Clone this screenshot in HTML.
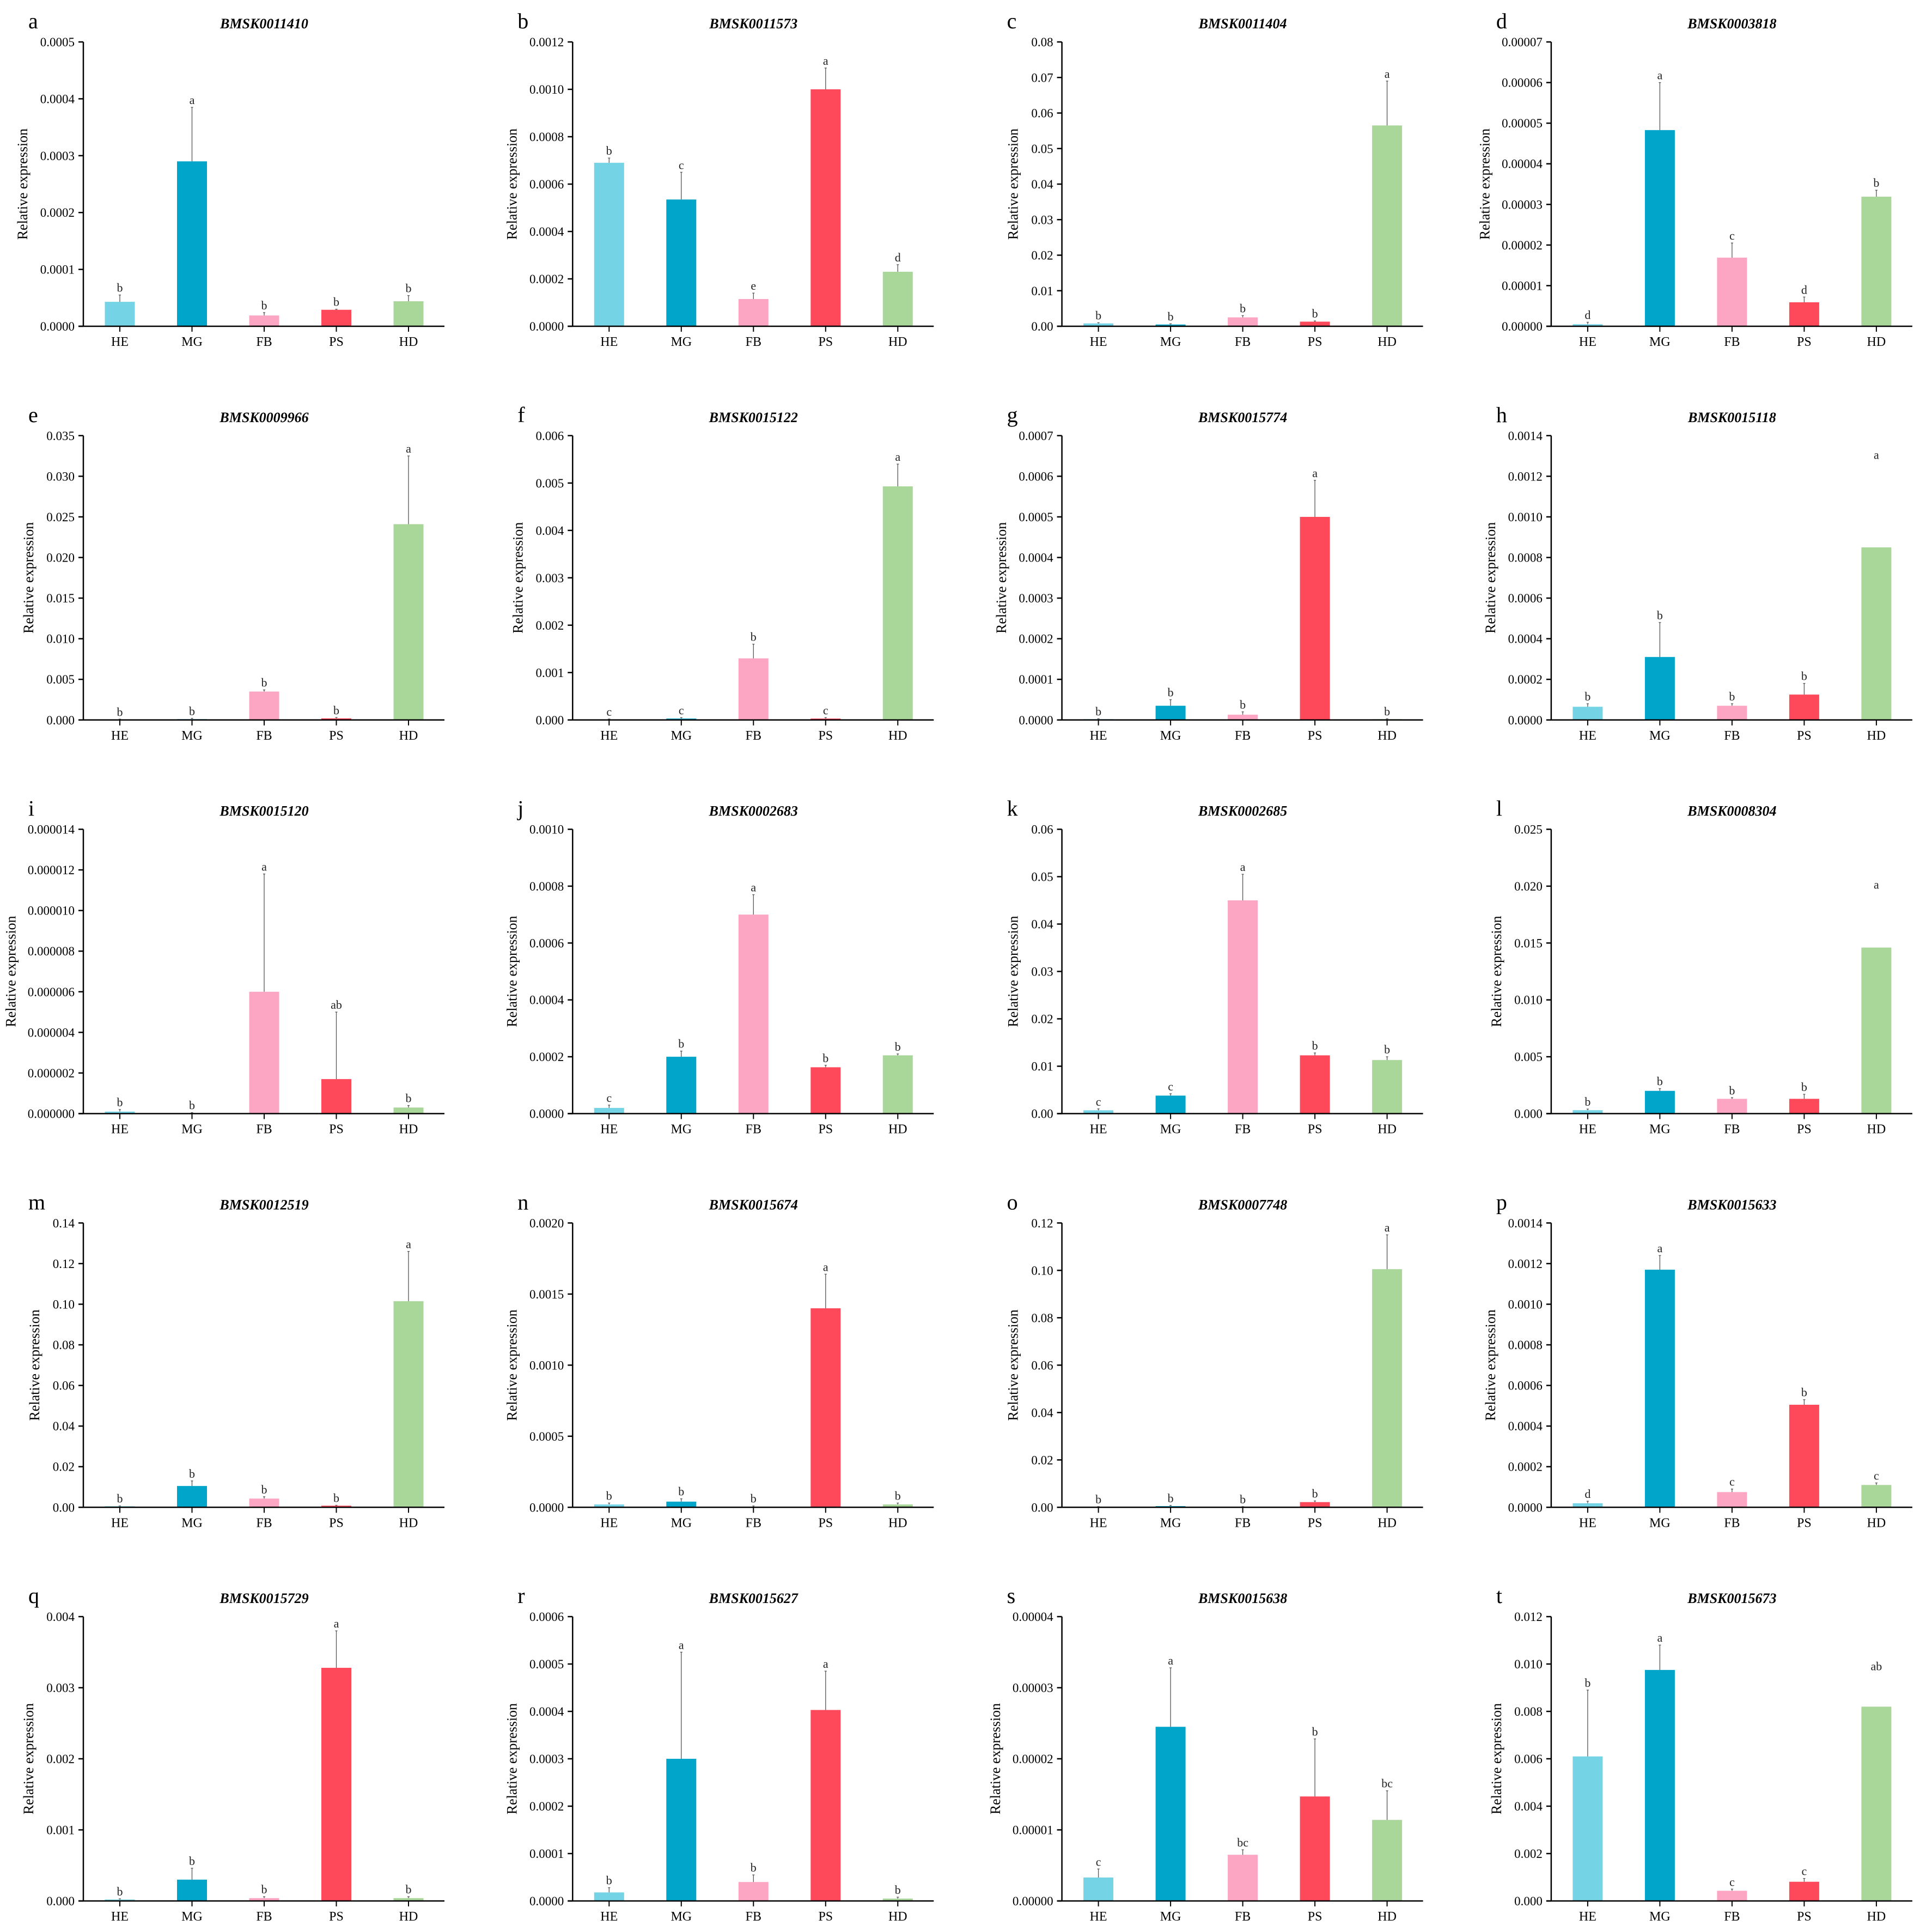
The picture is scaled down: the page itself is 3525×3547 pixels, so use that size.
<!DOCTYPE html>
<html><head><meta charset="utf-8">
<style>
html,body{margin:0;padding:0;background:#fff;}
svg{display:block;font-family:"Liberation Serif",serif;}
</style></head>
<body>
<svg id="fig" width="3525" height="3547" viewBox="0 0 3525 3547" xmlns="http://www.w3.org/2000/svg"></svg>
<script>
const categories = ["HE","MG","FB","PS","HD"];
const colors = ["#74d3e4","#00a5c9","#fca6c3","#fe495b","#a9d699"];
const panelLetters = ["a","b","c","d","e","f","g","h","i","j","k","l","m","n","o","p","q","r","s","t"];
const geneNames = ["BMSK0011410","BMSK0011573","BMSK0011404","BMSK0003818","BMSK0009966","BMSK0015122","BMSK0015774","BMSK0015118","BMSK0015120","BMSK0002683","BMSK0002685","BMSK0008304","BMSK0012519","BMSK0015674","BMSK0007748","BMSK0015633","BMSK0015729","BMSK0015627","BMSK0015638","BMSK0015673"];
const axisMax = [0.0005,0.0012,0.08,0.00007,0.035,0.006,0.0007,0.0014,0.000014,0.0010,0.06,0.025,0.14,0.0020,0.12,0.0014,0.004,0.0006,0.00004,0.012];
const tickStep = [0.0001,0.0002,0.01,0.00001,0.005,0.001,0.0001,0.0002,0.000002,0.0002,0.01,0.005,0.02,0.0005,0.02,0.0002,0.001,0.0001,0.00001,0.002];
const tickDecimals = [4,4,2,5,3,3,4,4,6,4,2,3,2,4,2,4,3,4,5,3];
const meanValues = [
 [0.000043,0.00029,0.000019,0.000029,0.000044],
 [0.00069,0.000535,0.000115,0.001,0.00023],
 [0.0008,0.0005,0.0025,0.0013,0.0565],
 [0.0000005,0.0000483,0.0000169,0.0000059,0.0000319],
 [0.00005,0.0001,0.0035,0.0002,0.0241],
 [0.00001,0.00003,0.0013,0.00003,0.00493],
 [0.000002,0.000035,0.000013,0.0005,0.000002],
 [0.000065,0.00031,0.00007,0.000125,0.00085],
 [0.0000001,0,0.000006,0.0000017,0.0000003],
 [0.00002,0.0002,0.0007,0.000163,0.000205],
 [0.0007,0.0038,0.045,0.0123,0.0113],
 [0.0003,0.002,0.0013,0.0013,0.0146],
 [0.0005,0.0105,0.0043,0.0008,0.1015],
 [0.00002,0.00004,0.000005,0.0014,0.00002],
 [0.0002,0.0005,0.0002,0.0022,0.1005],
 [0.00002,0.00117,0.000075,0.000505,0.00011],
 [0.00002,0.0003,0.00004,0.00328,0.00004],
 [0.000018,0.0003,0.00004,0.000403,0.000005],
 [0.0000033,0.0000245,0.0000065,0.0000147,0.0000114],
 [0.0061,0.00975,0.00043,0.00081,0.0082]
];
const errorTops = [
 [0.000055,0.000385,0.000024,0.00003,0.000054],
 [0.00071,0.00065,0.00014,0.00109,0.00026],
 [0.001,0.0007,0.003,0.0015,0.069],
 [0.000001,0.00006,0.0000205,0.0000072,0.0000335],
 [0.0001,0.0002,0.0037,0.0003,0.0325],
 [0.00002,0.00005,0.0016,0.00005,0.0054],
 [0.000003,0.00005,0.00002,0.00059,0.000003],
 [0.00008,0.00048,0.00008,0.00018,0.00085],
 [0.0000002,0.00000005,0.0000118,0.000005,0.0000004],
 [0.00003,0.00022,0.00077,0.00017,0.00021],
 [0.001,0.0042,0.0505,0.0128,0.012],
 [0.0004,0.0022,0.0014,0.0017,0.0146],
 [0.0007,0.013,0.0052,0.001,0.126],
 [0.00003,0.00006,0.00001,0.00164,0.00003],
 [0.0003,0.0008,0.0003,0.0027,0.115],
 [0.00003,0.00124,0.00009,0.00053,0.00012],
 [0.00003,0.00046,0.00006,0.0038,0.00006],
 [0.000028,0.000525,0.000055,0.000485,0.000008],
 [0.0000045,0.0000328,0.0000072,0.0000228,0.0000155],
 [0.0089,0.0108,0.0005,0.00095,0.0082]
];
// explicit letter heights where letter floats above without visible error line (panel index, bar index, value)
const letterTops = [[7,4,0.00127],[11,4,0.0195],[19,4,0.0096]];
const sigLetters = [
 ["b","a","b","b","b"],["b","c","e","a","d"],["b","b","b","b","a"],["d","a","c","d","b"],
 ["b","b","b","b","a"],["c","c","b","c","a"],["b","b","b","a","b"],["b","b","b","b","a"],
 ["b","b","a","ab","b"],["c","b","a","b","b"],["c","c","a","b","b"],["b","b","b","b","a"],
 ["b","b","b","b","a"],["b","b","b","a","b"],["b","b","b","b","a"],["d","a","c","b","c"],
 ["b","b","b","a","b"],["b","a","b","a","b"],["c","a","bc","b","bc"],["b","a","c","c","ab"]
];

const NS="http://www.w3.org/2000/svg";
const svg=document.getElementById('fig');
function mk(tag,attrs,parent){const e=document.createElementNS(NS,tag);for(const k in attrs)e.setAttribute(k,attrs[k]);parent.appendChild(e);return e;}

const COLW=898.3, ROWH=722.75;
const AXX=153, TOPY=77, ZEROY=599, XEND=816;
const BAR0=220, BARSP=132.5, BARW=55;

for(let p=0;p<20;p++){
  const ox=(p%4)*COLW, oy=Math.floor(p/4)*ROWH;
  const g=mk('g',{transform:`translate(${ox.toFixed(1)},${oy.toFixed(1)})`},svg);
  
  
  const ymax=axisMax[p];
  const yScale=v=>ZEROY-(v/ymax)*(ZEROY-TOPY);
  const xScale=i=>BAR0+i*BARSP;

  const pl=mk('text',{x:52,y:52,'font-size':40},g); pl.textContent=panelLetters[p];
  
  
  const tt=mk('text',{x:485,y:52,'font-size':26,'font-weight':'bold','font-style':'italic','text-anchor':'middle'},g); tt.textContent=geneNames[p];
  
  

  for(let i=0;i<5;i++){
    const v=meanValues[p][i], e=errorTops[p][i], cx=xScale(i);
    const yv=yScale(v), ye=yScale(e);
    const r=mk('rect',{x:cx-BARW/2,y:yv,width:BARW,height:Math.max(0,ZEROY-yv),fill:colors[i]},g);
    
    
    if(e>v){
      const l=mk('line',{x1:cx,x2:cx,y1:yv,y2:ye,stroke:'#555','stroke-width':1.3},g);
      
      
      mk('line',{x1:cx-2,x2:cx+2,y1:ye,y2:ye,stroke:'#555','stroke-width':1.3},g);
    }
    let ly=Math.min(ye,yv);
    for(const lt of letterTops){ if(lt[0]===p&&lt[1]===i) ly=yScale(lt[2]); }
    const lt=mk('text',{x:cx,y:ly-6,'font-size':22,'text-anchor':'middle',fill:'#222'},g);
    lt.textContent=sigLetters[p][i];
    
    
  }

  const ya=mk('line',{x1:AXX,x2:AXX,y1:TOPY,y2:ZEROY+1,stroke:'#000','stroke-width':2.5},g);
  
  
  const xa=mk('line',{x1:AXX-9,x2:XEND,y1:ZEROY,y2:ZEROY,stroke:'#000','stroke-width':2.5},g);
  
  
  const nt=Math.round(ymax/tickStep[p]);
  let labLen=0;
  for(let k=0;k<=nt;k++){
    const v=k*tickStep[p], y=yScale(v);
    mk('line',{x1:AXX-9,x2:AXX,y1:y,y2:y,stroke:'#000','stroke-width':2.5},g);
    const s=v.toFixed(tickDecimals[p]); labLen=Math.max(labLen,s.length);
    const tl=mk('text',{x:AXX-16,y:y+8,'font-size':23,'text-anchor':'end'},g); tl.textContent=s;
    
    
  }
  for(let i=0;i<5;i++){
    const cx=xScale(i);
    mk('line',{x1:cx,x2:cx,y1:ZEROY,y2:ZEROY+10,stroke:'#000','stroke-width':2},g);
    const xl=mk('text',{x:cx,y:ZEROY+36,'font-size':24,'text-anchor':'middle'},g); xl.textContent=categories[i];
    
    
  }
  const lx=AXX-16-labLen*10.8-22;
  const yl=mk('text',{x:lx,y:(TOPY+ZEROY)/2,'font-size':26,'text-anchor':'middle',transform:`rotate(-90 ${lx} ${(TOPY+ZEROY)/2})`},g);
  yl.textContent='Relative expression';
  
  
}
</script>
</body></html>
